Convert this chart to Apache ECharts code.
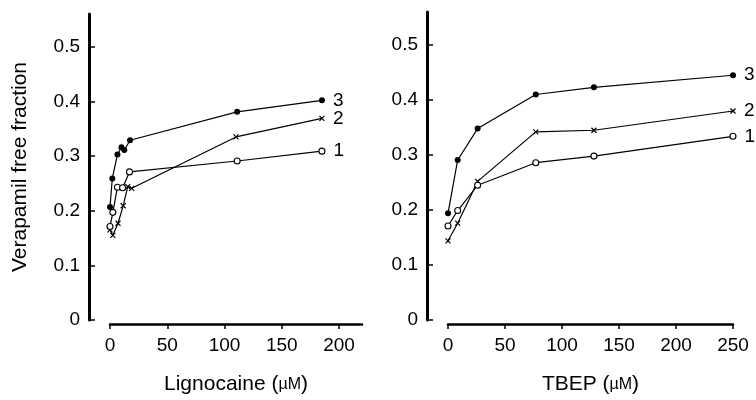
<!DOCTYPE html>
<html><head><meta charset="utf-8">
<script src="https://cdn.jsdelivr.net/npm/echarts@6/dist/echarts.min.js"></script>
<style>html,body{margin:0;padding:0;background:#fff}#c{width:756px;height:400px}</style>
</head><body><div id="c"></div>
<script>
// Left panel: Lignocaine
const lignoX3 = [0, 2, 6.5, 10, 12.5, 17.5, 111, 185];
const lignoY3 = [0.207, 0.259, 0.303, 0.316, 0.311, 0.329, 0.381, 0.402];
const lignoX2 = [0, 2.5, 7, 11.5, 15.5, 19, 110, 185];
const lignoY2 = [0.165, 0.155, 0.177, 0.209, 0.244, 0.241, 0.335, 0.369];
const lignoX1 = [0, 2.5, 6.5, 11, 17, 111, 185];
const lignoY1 = [0.171, 0.197, 0.243, 0.242, 0.271, 0.291, 0.309];
// Right panel: TBEP
const tbepX = [0, 8.5, 26, 77, 128, 250];
const tbepY3 = [0.194, 0.291, 0.348, 0.410, 0.423, 0.445];
const tbepY2 = [0.144, 0.176, 0.252, 0.342, 0.345, 0.380];
const tbepY1 = [0.171, 0.199, 0.245, 0.286, 0.298, 0.334];
// Ticks
const yTicks = [0, 0.1, 0.2, 0.3, 0.4, 0.5];
const lignoTicks = [0, 50, 100, 150, 200];
const tbepTicks = [0, 50, 100, 150, 200, 250];
const seriesNames = ['1', '2', '3'];

const FONT = 'Liberation Sans';
const crossPath = 'path://M0,0L10,10M10,0L0,10';

function pts(xs, ys, name) {
  return xs.map((x, i) => {
    if (i === xs.length - 1) {
      return { value: [x, ys[i]], label: { show: true, formatter: name, position: 'right', distance: 8,
        color: '#000', fontSize: 19, fontFamily: FONT } };
    }
    return [x, ys[i]];
  });
}
function mk(kind, xs, ys, name, idx) {
  const s = { type: 'line', name: name, xAxisIndex: idx, yAxisIndex: idx, data: pts(xs, ys, name),
    lineStyle: { color: '#000', width: 1.2 }, animation: false, z: kind === 'open' ? 3 : 2 };
  if (kind === 'filled') {
    s.symbol = 'circle'; s.symbolSize = 6;
    s.itemStyle = { color: '#000', borderColor: '#000', borderWidth: 0 };
  } else if (kind === 'open') {
    s.symbol = 'circle'; s.symbolSize = 6;
    s.itemStyle = { color: '#fff', borderColor: '#000', borderWidth: 1.1 };
  } else {
    s.symbol = crossPath; s.symbolSize = 5;
    s.itemStyle = { color: '#000', borderColor: '#000', borderWidth: 1.2 };
  }
  return s;
}
function yAx(idx) {
  return { type: 'value', gridIndex: idx, min: 0, max: 0.56, offset: 21,
    name: idx === 0 ? 'Verapamil free fraction' : '', nameLocation: 'middle', nameGap: 58,
    nameTextStyle: { fontSize: 21, fontFamily: FONT, color: '#000' },
    axisLine: { show: true, onZero: false, lineStyle: { color: '#000', width: 3 } },
    axisTick: { show: true, inside: true, length: 6, lineStyle: { color: '#000', width: 1.5 }, customValues: yTicks },
    axisLabel: { customValues: yTicks, margin: 9, fontSize: 19, fontFamily: FONT, color: '#000',
      formatter: v => v === 0 ? '0' : v.toFixed(1) },
    splitLine: { show: false } };
}
function xAx(idx, max, ticks, label) {
  return { type: 'value', gridIndex: idx, min: 0, max: max, offset: 4,
    name: label, nameLocation: 'middle', nameGap: 50,
    nameTextStyle: { fontSize: 21, fontFamily: FONT, color: '#000',
      rich: { s: { fontSize: 16, fontFamily: FONT, color: '#000' } } },
    axisLine: { show: true, onZero: false, lineStyle: { color: '#000', width: 2.5 } },
    axisTick: { show: true, inside: false, length: 5, lineStyle: { color: '#000', width: 1.5 }, customValues: ticks },
    axisLabel: { customValues: ticks, margin: 12, fontSize: 19, fontFamily: FONT, color: '#000' },
    splitLine: { show: false } };
}
const chart = echarts.init(document.getElementById('c'), null, { renderer: 'canvas' });
chart.setOption({
  backgroundColor: '#fff',
  animation: false,
  grid: [
    { left: 110, top: 14, width: 252, height: 311 },
    { left: 448, top: 12, width: 285, height: 315 }
  ],
  xAxis: [xAx(0, 220, lignoTicks, 'Lignocaine ({s|µM})'), xAx(1, 250, tbepTicks, 'TBEP ({s|µM})')],
  yAxis: [yAx(0), yAx(1)],
  series: [
    mk('open', lignoX1, lignoY1, seriesNames[0], 0),
    mk('cross', lignoX2, lignoY2, seriesNames[1], 0),
    mk('filled', lignoX3, lignoY3, seriesNames[2], 0),
    mk('open', tbepX, tbepY1, seriesNames[0], 1),
    mk('cross', tbepX, tbepY2, seriesNames[1], 1),
    mk('filled', tbepX, tbepY3, seriesNames[2], 1)
  ]
});
</script></body></html>
